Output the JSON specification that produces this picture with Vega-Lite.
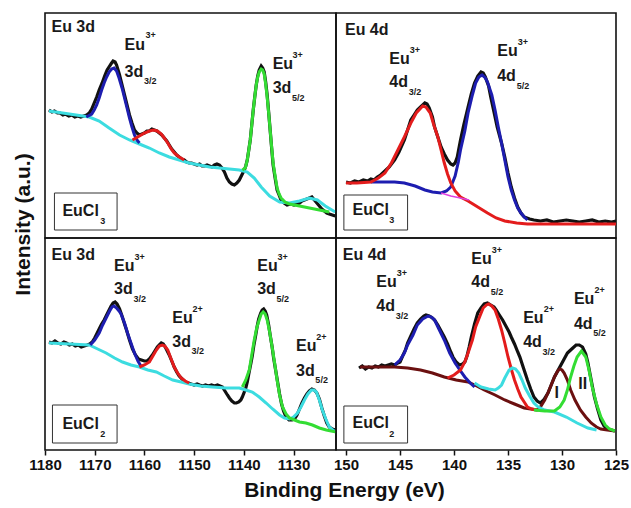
{
"$schema": "https://vega.github.io/schema/vega-lite/v6.json",
"background": "white",
"padding": {"left": 11, "top": 12, "right": 0, "bottom": 4},
"columns": 2,
"spacing": 0,
"bounds": "flush",
"config": {"view": {"stroke": "#111", "strokeWidth": 1.6}, "font": "Liberation Sans"},
"datasets": {
"curves": [
{"p":"TL","s":"data","E":1179.2,"I":128},{"p":"TL","s":"data","E":1178.6,"I":126},{"p":"TL","s":"data","E":1178.1,"I":127},{"p":"TL","s":"data","E":1177.5,"I":125},{"p":"TL","s":"data","E":1177.0,"I":125},{"p":"TL","s":"data","E":1176.4,"I":123},{"p":"TL","s":"data","E":1175.9,"I":124},{"p":"TL","s":"data","E":1175.2,"I":122},{"p":"TL","s":"data","E":1174.6,"I":123},{"p":"TL","s":"data","E":1174.0,"I":121},{"p":"TL","s":"data","E":1173.4,"I":122},{"p":"TL","s":"data","E":1172.8,"I":121},{"p":"TL","s":"data","E":1172.2,"I":122},{"p":"TL","s":"data","E":1171.6,"I":123},{"p":"TL","s":"data","E":1171.1,"I":125},{"p":"TL","s":"data","E":1170.6,"I":129},{"p":"TL","s":"data","E":1170.1,"I":135},{"p":"TL","s":"data","E":1169.6,"I":141},{"p":"TL","s":"data","E":1169.1,"I":148},{"p":"TL","s":"data","E":1168.5,"I":155},{"p":"TL","s":"data","E":1168.0,"I":162},{"p":"TL","s":"data","E":1167.5,"I":168},{"p":"TL","s":"data","E":1167.0,"I":172},{"p":"TL","s":"data","E":1166.6,"I":175},{"p":"TL","s":"data","E":1166.3,"I":177},{"p":"TL","s":"data","E":1165.9,"I":176},{"p":"TL","s":"data","E":1165.6,"I":173},{"p":"TL","s":"data","E":1165.3,"I":168},{"p":"TL","s":"data","E":1165.0,"I":163},{"p":"TL","s":"data","E":1164.5,"I":153},{"p":"TL","s":"data","E":1164.0,"I":143},{"p":"TL","s":"data","E":1163.5,"I":133},{"p":"TL","s":"data","E":1163.0,"I":123},{"p":"TL","s":"data","E":1162.5,"I":115},{"p":"TL","s":"data","E":1162.0,"I":108},{"p":"TL","s":"data","E":1161.5,"I":105},{"p":"TL","s":"data","E":1161.0,"I":103},{"p":"TL","s":"data","E":1160.5,"I":104},{"p":"TL","s":"data","E":1160.0,"I":105},{"p":"TL","s":"data","E":1159.5,"I":107},{"p":"TL","s":"data","E":1159.0,"I":107},{"p":"TL","s":"data","E":1158.5,"I":109},{"p":"TL","s":"data","E":1158.0,"I":108},{"p":"TL","s":"data","E":1157.5,"I":107},{"p":"TL","s":"data","E":1157.0,"I":105},{"p":"TL","s":"data","E":1156.5,"I":103},{"p":"TL","s":"data","E":1156.0,"I":100},{"p":"TL","s":"data","E":1155.5,"I":97},{"p":"TL","s":"data","E":1155.0,"I":93},{"p":"TL","s":"data","E":1154.5,"I":89},{"p":"TL","s":"data","E":1154.0,"I":86},{"p":"TL","s":"data","E":1153.5,"I":83},{"p":"TL","s":"data","E":1153.0,"I":81},{"p":"TL","s":"data","E":1152.5,"I":79},{"p":"TL","s":"data","E":1152.0,"I":78},{"p":"TL","s":"data","E":1151.5,"I":76},{"p":"TL","s":"data","E":1151.0,"I":75},{"p":"TL","s":"data","E":1150.5,"I":75},{"p":"TL","s":"data","E":1150.0,"I":74},{"p":"TL","s":"data","E":1149.4,"I":73},{"p":"TL","s":"data","E":1148.9,"I":74},{"p":"TL","s":"data","E":1148.4,"I":72},{"p":"TL","s":"data","E":1147.9,"I":72},{"p":"TL","s":"data","E":1147.4,"I":73},{"p":"TL","s":"data","E":1146.9,"I":72},{"p":"TL","s":"data","E":1146.4,"I":71},{"p":"TL","s":"data","E":1145.9,"I":73},{"p":"TL","s":"data","E":1145.4,"I":74},{"p":"TL","s":"data","E":1144.9,"I":73},{"p":"TL","s":"data","E":1144.4,"I":70},{"p":"TL","s":"data","E":1143.9,"I":66},{"p":"TL","s":"data","E":1143.4,"I":60},{"p":"TL","s":"data","E":1142.9,"I":56},{"p":"TL","s":"data","E":1142.4,"I":54},{"p":"TL","s":"data","E":1141.9,"I":53},{"p":"TL","s":"data","E":1141.4,"I":55},{"p":"TL","s":"data","E":1140.9,"I":58},{"p":"TL","s":"data","E":1140.4,"I":63},{"p":"TL","s":"data","E":1139.9,"I":68},{"p":"TL","s":"data","E":1139.6,"I":72},{"p":"TL","s":"data","E":1139.3,"I":78},{"p":"TL","s":"data","E":1139.0,"I":88},{"p":"TL","s":"data","E":1138.7,"I":98},{"p":"TL","s":"data","E":1138.4,"I":113},{"p":"TL","s":"data","E":1138.1,"I":128},{"p":"TL","s":"data","E":1137.8,"I":141},{"p":"TL","s":"data","E":1137.5,"I":153},{"p":"TL","s":"data","E":1137.2,"I":162},{"p":"TL","s":"data","E":1136.9,"I":168},{"p":"TL","s":"data","E":1136.5,"I":172},{"p":"TL","s":"data","E":1136.2,"I":170},{"p":"TL","s":"data","E":1135.9,"I":166},{"p":"TL","s":"data","E":1135.6,"I":156},{"p":"TL","s":"data","E":1135.3,"I":143},{"p":"TL","s":"data","E":1135.0,"I":126},{"p":"TL","s":"data","E":1134.7,"I":108},{"p":"TL","s":"data","E":1134.4,"I":90},{"p":"TL","s":"data","E":1134.1,"I":73},{"p":"TL","s":"data","E":1133.7,"I":60},{"p":"TL","s":"data","E":1133.3,"I":48},{"p":"TL","s":"data","E":1132.9,"I":43},{"p":"TL","s":"data","E":1132.5,"I":38},{"p":"TL","s":"data","E":1131.9,"I":35},{"p":"TL","s":"data","E":1131.3,"I":33},{"p":"TL","s":"data","E":1130.6,"I":34},{"p":"TL","s":"data","E":1129.9,"I":33},{"p":"TL","s":"data","E":1129.3,"I":34},{"p":"TL","s":"data","E":1128.8,"I":35},{"p":"TL","s":"data","E":1128.3,"I":37},{"p":"TL","s":"data","E":1127.8,"I":38},{"p":"TL","s":"data","E":1127.3,"I":39},{"p":"TL","s":"data","E":1126.8,"I":40},{"p":"TL","s":"data","E":1126.3,"I":41},{"p":"TL","s":"data","E":1125.8,"I":38},{"p":"TL","s":"data","E":1125.3,"I":35},{"p":"TL","s":"data","E":1124.8,"I":32},{"p":"TL","s":"data","E":1124.3,"I":29},{"p":"TL","s":"data","E":1123.8,"I":27},{"p":"TL","s":"data","E":1123.3,"I":25},{"p":"TL","s":"data","E":1122.8,"I":24},{"p":"TL","s":"data","E":1122.2,"I":23},{"p":"TL","s":"data","E":1121.6,"I":22},
{"p":"TL","s":"D","E":1179.2,"I":127},{"p":"TL","s":"D","E":1175.1,"I":124},{"p":"TL","s":"D","E":1171.1,"I":121},{"p":"TL","s":"D","E":1169.1,"I":117},{"p":"TL","s":"D","E":1167.1,"I":110},{"p":"TL","s":"D","E":1165.0,"I":103},{"p":"TL","s":"D","E":1163.0,"I":98},{"p":"TL","s":"D","E":1161.0,"I":94},{"p":"TL","s":"D","E":1159.0,"I":90},{"p":"TL","s":"D","E":1157.0,"I":85},{"p":"TL","s":"D","E":1155.0,"I":81},{"p":"TL","s":"D","E":1153.0,"I":78},{"p":"TL","s":"D","E":1151.0,"I":75},{"p":"TL","s":"D","E":1148.9,"I":73},{"p":"TL","s":"D","E":1146.9,"I":71},{"p":"TL","s":"D","E":1144.9,"I":70},{"p":"TL","s":"D","E":1142.9,"I":69},{"p":"TL","s":"D","E":1140.9,"I":68},{"p":"TL","s":"D","E":1139.3,"I":66},{"p":"TL","s":"D","E":1137.9,"I":60},{"p":"TL","s":"D","E":1136.5,"I":51},{"p":"TL","s":"D","E":1134.8,"I":42},{"p":"TL","s":"D","E":1132.8,"I":36},{"p":"TL","s":"D","E":1130.8,"I":35},{"p":"TL","s":"D","E":1128.8,"I":37},{"p":"TL","s":"D","E":1126.8,"I":40},{"p":"TL","s":"D","E":1125.2,"I":38},{"p":"TL","s":"D","E":1123.6,"I":32},{"p":"TL","s":"D","E":1121.6,"I":26},
{"p":"TL","s":"A","E":1171.7,"I":121},{"p":"TL","s":"A","E":1170.6,"I":124},{"p":"TL","s":"A","E":1170.1,"I":128},{"p":"TL","s":"A","E":1169.6,"I":133},{"p":"TL","s":"A","E":1169.1,"I":140},{"p":"TL","s":"A","E":1168.6,"I":148},{"p":"TL","s":"A","E":1168.1,"I":155},{"p":"TL","s":"A","E":1167.6,"I":161},{"p":"TL","s":"A","E":1167.1,"I":166},{"p":"TL","s":"A","E":1166.6,"I":169},{"p":"TL","s":"A","E":1166.1,"I":170},{"p":"TL","s":"A","E":1165.6,"I":167},{"p":"TL","s":"A","E":1165.1,"I":160},{"p":"TL","s":"A","E":1164.5,"I":150},{"p":"TL","s":"A","E":1164.0,"I":140},{"p":"TL","s":"A","E":1163.5,"I":130},{"p":"TL","s":"A","E":1163.0,"I":120},{"p":"TL","s":"A","E":1162.5,"I":111},{"p":"TL","s":"A","E":1162.0,"I":103},{"p":"TL","s":"A","E":1161.5,"I":98},{"p":"TL","s":"A","E":1161.0,"I":95},
{"p":"TL","s":"B","E":1162.4,"I":98},{"p":"TL","s":"B","E":1161.0,"I":102},{"p":"TL","s":"B","E":1160.0,"I":105},{"p":"TL","s":"B","E":1159.0,"I":107},{"p":"TL","s":"B","E":1158.2,"I":108},{"p":"TL","s":"B","E":1157.4,"I":107},{"p":"TL","s":"B","E":1156.6,"I":104},{"p":"TL","s":"B","E":1156.0,"I":100},{"p":"TL","s":"B","E":1155.3,"I":95},{"p":"TL","s":"B","E":1154.6,"I":89},{"p":"TL","s":"B","E":1154.0,"I":85},{"p":"TL","s":"B","E":1153.0,"I":81},{"p":"TL","s":"B","E":1152.0,"I":78},
{"p":"TL","s":"C","E":1140.3,"I":68},{"p":"TL","s":"C","E":1139.7,"I":70},{"p":"TL","s":"C","E":1139.3,"I":78},{"p":"TL","s":"C","E":1139.0,"I":88},{"p":"TL","s":"C","E":1138.7,"I":98},{"p":"TL","s":"C","E":1138.4,"I":113},{"p":"TL","s":"C","E":1138.1,"I":128},{"p":"TL","s":"C","E":1137.8,"I":141},{"p":"TL","s":"C","E":1137.5,"I":153},{"p":"TL","s":"C","E":1137.2,"I":161},{"p":"TL","s":"C","E":1136.9,"I":166},{"p":"TL","s":"C","E":1136.5,"I":169},{"p":"TL","s":"C","E":1136.2,"I":168},{"p":"TL","s":"C","E":1135.9,"I":164},{"p":"TL","s":"C","E":1135.6,"I":154},{"p":"TL","s":"C","E":1135.3,"I":141},{"p":"TL","s":"C","E":1135.0,"I":125},{"p":"TL","s":"C","E":1134.7,"I":108},{"p":"TL","s":"C","E":1134.4,"I":91},{"p":"TL","s":"C","E":1134.1,"I":75},{"p":"TL","s":"C","E":1133.7,"I":62},{"p":"TL","s":"C","E":1133.3,"I":50},{"p":"TL","s":"C","E":1132.9,"I":44},{"p":"TL","s":"C","E":1132.5,"I":40},{"p":"TL","s":"C","E":1131.7,"I":36},{"p":"TL","s":"C","E":1130.8,"I":34},{"p":"TL","s":"C","E":1128.8,"I":32},{"p":"TL","s":"C","E":1126.8,"I":30},{"p":"TL","s":"C","E":1124.8,"I":28},{"p":"TL","s":"C","E":1122.8,"I":26},
{"p":"TR","s":"data","E":150.0,"I":56},{"p":"TR","s":"data","E":149.6,"I":55},{"p":"TR","s":"data","E":149.2,"I":57},{"p":"TR","s":"data","E":148.8,"I":56},{"p":"TR","s":"data","E":148.4,"I":58},{"p":"TR","s":"data","E":148.0,"I":57},{"p":"TR","s":"data","E":147.7,"I":59},{"p":"TR","s":"data","E":147.4,"I":58},{"p":"TR","s":"data","E":147.1,"I":61},{"p":"TR","s":"data","E":146.8,"I":63},{"p":"TR","s":"data","E":146.4,"I":67},{"p":"TR","s":"data","E":146.0,"I":71},{"p":"TR","s":"data","E":145.5,"I":78},{"p":"TR","s":"data","E":145.1,"I":86},{"p":"TR","s":"data","E":144.6,"I":98},{"p":"TR","s":"data","E":144.3,"I":108},{"p":"TR","s":"data","E":144.0,"I":118},{"p":"TR","s":"data","E":143.7,"I":123},{"p":"TR","s":"data","E":143.4,"I":128},{"p":"TR","s":"data","E":143.1,"I":131},{"p":"TR","s":"data","E":142.9,"I":133},{"p":"TR","s":"data","E":142.7,"I":135},{"p":"TR","s":"data","E":142.5,"I":134},{"p":"TR","s":"data","E":142.3,"I":130},{"p":"TR","s":"data","E":142.0,"I":121},{"p":"TR","s":"data","E":141.8,"I":111},{"p":"TR","s":"data","E":141.5,"I":101},{"p":"TR","s":"data","E":141.2,"I":91},{"p":"TR","s":"data","E":140.9,"I":84},{"p":"TR","s":"data","E":140.6,"I":78},{"p":"TR","s":"data","E":140.3,"I":74},{"p":"TR","s":"data","E":140.1,"I":73},{"p":"TR","s":"data","E":139.9,"I":75},{"p":"TR","s":"data","E":139.7,"I":81},{"p":"TR","s":"data","E":139.4,"I":98},{"p":"TR","s":"data","E":139.1,"I":113},{"p":"TR","s":"data","E":138.7,"I":131},{"p":"TR","s":"data","E":138.4,"I":144},{"p":"TR","s":"data","E":138.1,"I":155},{"p":"TR","s":"data","E":137.8,"I":162},{"p":"TR","s":"data","E":137.5,"I":166},{"p":"TR","s":"data","E":137.3,"I":165},{"p":"TR","s":"data","E":137.1,"I":161},{"p":"TR","s":"data","E":136.8,"I":152},{"p":"TR","s":"data","E":136.6,"I":141},{"p":"TR","s":"data","E":136.3,"I":126},{"p":"TR","s":"data","E":136.0,"I":111},{"p":"TR","s":"data","E":135.6,"I":95},{"p":"TR","s":"data","E":135.3,"I":81},{"p":"TR","s":"data","E":135.0,"I":65},{"p":"TR","s":"data","E":134.7,"I":51},{"p":"TR","s":"data","E":134.4,"I":40},{"p":"TR","s":"data","E":134.1,"I":31},{"p":"TR","s":"data","E":133.8,"I":25},{"p":"TR","s":"data","E":133.5,"I":21},{"p":"TR","s":"data","E":133.0,"I":19},{"p":"TR","s":"data","E":132.6,"I":18},{"p":"TR","s":"data","E":132.0,"I":17},{"p":"TR","s":"data","E":131.4,"I":18},{"p":"TR","s":"data","E":130.8,"I":16},{"p":"TR","s":"data","E":130.2,"I":17},{"p":"TR","s":"data","E":129.6,"I":18},{"p":"TR","s":"data","E":129.0,"I":17},{"p":"TR","s":"data","E":128.4,"I":16},{"p":"TR","s":"data","E":127.8,"I":17},{"p":"TR","s":"data","E":127.2,"I":18},{"p":"TR","s":"data","E":126.6,"I":16},{"p":"TR","s":"data","E":126.0,"I":17},{"p":"TR","s":"data","E":125.4,"I":16},{"p":"TR","s":"data","E":125.0,"I":17},
{"p":"TR","s":"A","E":147.7,"I":56},{"p":"TR","s":"A","E":146.5,"I":56},{"p":"TR","s":"A","E":145.5,"I":56},{"p":"TR","s":"A","E":144.6,"I":55},{"p":"TR","s":"A","E":143.6,"I":52},{"p":"TR","s":"A","E":142.7,"I":48},{"p":"TR","s":"A","E":142.0,"I":46},{"p":"TR","s":"A","E":141.2,"I":45},{"p":"TR","s":"A","E":140.7,"I":47},{"p":"TR","s":"A","E":140.3,"I":51},{"p":"TR","s":"A","E":139.9,"I":62},{"p":"TR","s":"A","E":139.6,"I":76},{"p":"TR","s":"A","E":139.4,"I":88},{"p":"TR","s":"A","E":139.0,"I":107},{"p":"TR","s":"A","E":138.7,"I":125},{"p":"TR","s":"A","E":138.3,"I":143},{"p":"TR","s":"A","E":138.0,"I":155},{"p":"TR","s":"A","E":137.7,"I":161},{"p":"TR","s":"A","E":137.4,"I":163},{"p":"TR","s":"A","E":137.1,"I":160},{"p":"TR","s":"A","E":136.9,"I":156},{"p":"TR","s":"A","E":136.5,"I":143},{"p":"TR","s":"A","E":136.2,"I":128},{"p":"TR","s":"A","E":135.9,"I":111},{"p":"TR","s":"A","E":135.6,"I":95},{"p":"TR","s":"A","E":135.3,"I":78},{"p":"TR","s":"A","E":135.0,"I":61},{"p":"TR","s":"A","E":134.7,"I":48},{"p":"TR","s":"A","E":134.4,"I":38},{"p":"TR","s":"A","E":134.1,"I":30},{"p":"TR","s":"A","E":133.8,"I":25},{"p":"TR","s":"A","E":133.5,"I":21},{"p":"TR","s":"A","E":133.2,"I":18},
{"p":"TR","s":"B","E":150.0,"I":55},{"p":"TR","s":"B","E":149.0,"I":55},{"p":"TR","s":"B","E":147.7,"I":56},{"p":"TR","s":"B","E":147.0,"I":60},{"p":"TR","s":"B","E":146.4,"I":65},{"p":"TR","s":"B","E":145.8,"I":75},{"p":"TR","s":"B","E":145.2,"I":88},{"p":"TR","s":"B","E":144.6,"I":101},{"p":"TR","s":"B","E":144.0,"I":115},{"p":"TR","s":"B","E":143.5,"I":125},{"p":"TR","s":"B","E":142.9,"I":132},{"p":"TR","s":"B","E":142.6,"I":131},{"p":"TR","s":"B","E":142.2,"I":125},{"p":"TR","s":"B","E":141.9,"I":114},{"p":"TR","s":"B","E":141.5,"I":101},{"p":"TR","s":"B","E":141.2,"I":88},{"p":"TR","s":"B","E":140.9,"I":75},{"p":"TR","s":"B","E":140.6,"I":64},{"p":"TR","s":"B","E":140.3,"I":55},{"p":"TR","s":"B","E":139.9,"I":47},{"p":"TR","s":"B","E":139.4,"I":41},{"p":"TR","s":"B","E":138.7,"I":37},{"p":"TR","s":"B","E":138.1,"I":33},{"p":"TR","s":"B","E":137.5,"I":29},{"p":"TR","s":"B","E":136.9,"I":25},{"p":"TR","s":"B","E":136.1,"I":20},{"p":"TR","s":"B","E":135.3,"I":17},{"p":"TR","s":"B","E":134.2,"I":15},{"p":"TR","s":"B","E":133.2,"I":14},{"p":"TR","s":"B","E":130.0,"I":14},{"p":"TR","s":"B","E":127.0,"I":14},{"p":"TR","s":"B","E":125.0,"I":14},
{"p":"TR","s":"F","E":141.2,"I":45},{"p":"TR","s":"F","E":140.3,"I":42},{"p":"TR","s":"F","E":139.4,"I":40},{"p":"TR","s":"F","E":138.6,"I":38},
{"p":"BL","s":"data","E":1179.2,"I":108},{"p":"BL","s":"data","E":1178.6,"I":107},{"p":"BL","s":"data","E":1178.0,"I":109},{"p":"BL","s":"data","E":1177.4,"I":107},{"p":"BL","s":"data","E":1176.8,"I":106},{"p":"BL","s":"data","E":1176.2,"I":108},{"p":"BL","s":"data","E":1175.7,"I":107},{"p":"BL","s":"data","E":1175.1,"I":105},{"p":"BL","s":"data","E":1174.5,"I":106},{"p":"BL","s":"data","E":1173.9,"I":104},{"p":"BL","s":"data","E":1173.3,"I":105},{"p":"BL","s":"data","E":1172.7,"I":103},{"p":"BL","s":"data","E":1172.1,"I":104},{"p":"BL","s":"data","E":1171.5,"I":105},{"p":"BL","s":"data","E":1171.0,"I":106},{"p":"BL","s":"data","E":1170.5,"I":108},{"p":"BL","s":"data","E":1170.0,"I":112},{"p":"BL","s":"data","E":1169.5,"I":117},{"p":"BL","s":"data","E":1169.1,"I":121},{"p":"BL","s":"data","E":1168.6,"I":126},{"p":"BL","s":"data","E":1168.1,"I":130},{"p":"BL","s":"data","E":1167.7,"I":134},{"p":"BL","s":"data","E":1167.2,"I":139},{"p":"BL","s":"data","E":1166.7,"I":144},{"p":"BL","s":"data","E":1166.3,"I":147},{"p":"BL","s":"data","E":1165.9,"I":148},{"p":"BL","s":"data","E":1165.5,"I":146},{"p":"BL","s":"data","E":1165.0,"I":141},{"p":"BL","s":"data","E":1164.5,"I":134},{"p":"BL","s":"data","E":1164.0,"I":126},{"p":"BL","s":"data","E":1163.6,"I":120},{"p":"BL","s":"data","E":1163.0,"I":110},{"p":"BL","s":"data","E":1162.4,"I":101},{"p":"BL","s":"data","E":1161.8,"I":95},{"p":"BL","s":"data","E":1161.2,"I":91},{"p":"BL","s":"data","E":1160.6,"I":90},{"p":"BL","s":"data","E":1160.0,"I":89},{"p":"BL","s":"data","E":1159.5,"I":89},{"p":"BL","s":"data","E":1159.0,"I":91},{"p":"BL","s":"data","E":1158.4,"I":95},{"p":"BL","s":"data","E":1157.9,"I":99},{"p":"BL","s":"data","E":1157.4,"I":103},{"p":"BL","s":"data","E":1157.0,"I":105},{"p":"BL","s":"data","E":1156.6,"I":107},{"p":"BL","s":"data","E":1156.2,"I":106},{"p":"BL","s":"data","E":1155.8,"I":103},{"p":"BL","s":"data","E":1155.4,"I":99},{"p":"BL","s":"data","E":1155.0,"I":95},{"p":"BL","s":"data","E":1154.5,"I":89},{"p":"BL","s":"data","E":1154.0,"I":83},{"p":"BL","s":"data","E":1153.5,"I":78},{"p":"BL","s":"data","E":1153.0,"I":74},{"p":"BL","s":"data","E":1152.4,"I":71},{"p":"BL","s":"data","E":1151.8,"I":68},{"p":"BL","s":"data","E":1151.2,"I":67},{"p":"BL","s":"data","E":1150.6,"I":66},{"p":"BL","s":"data","E":1150.0,"I":65},{"p":"BL","s":"data","E":1149.4,"I":66},{"p":"BL","s":"data","E":1148.9,"I":65},{"p":"BL","s":"data","E":1148.3,"I":64},{"p":"BL","s":"data","E":1147.7,"I":65},{"p":"BL","s":"data","E":1147.1,"I":64},{"p":"BL","s":"data","E":1146.5,"I":65},{"p":"BL","s":"data","E":1145.9,"I":64},{"p":"BL","s":"data","E":1145.3,"I":65},{"p":"BL","s":"data","E":1144.8,"I":64},{"p":"BL","s":"data","E":1144.3,"I":63},{"p":"BL","s":"data","E":1143.8,"I":59},{"p":"BL","s":"data","E":1143.3,"I":55},{"p":"BL","s":"data","E":1142.9,"I":52},{"p":"BL","s":"data","E":1142.4,"I":49},{"p":"BL","s":"data","E":1141.9,"I":47},{"p":"BL","s":"data","E":1141.5,"I":47},{"p":"BL","s":"data","E":1141.0,"I":48},{"p":"BL","s":"data","E":1140.6,"I":50},{"p":"BL","s":"data","E":1140.3,"I":53},{"p":"BL","s":"data","E":1139.9,"I":58},{"p":"BL","s":"data","E":1139.6,"I":62},{"p":"BL","s":"data","E":1139.3,"I":68},{"p":"BL","s":"data","E":1139.0,"I":76},{"p":"BL","s":"data","E":1138.6,"I":86},{"p":"BL","s":"data","E":1138.3,"I":94},{"p":"BL","s":"data","E":1138.0,"I":104},{"p":"BL","s":"data","E":1137.6,"I":115},{"p":"BL","s":"data","E":1137.3,"I":124},{"p":"BL","s":"data","E":1137.0,"I":131},{"p":"BL","s":"data","E":1136.6,"I":137},{"p":"BL","s":"data","E":1136.3,"I":140},{"p":"BL","s":"data","E":1136.0,"I":141},{"p":"BL","s":"data","E":1135.7,"I":139},{"p":"BL","s":"data","E":1135.4,"I":135},{"p":"BL","s":"data","E":1135.0,"I":125},{"p":"BL","s":"data","E":1134.7,"I":115},{"p":"BL","s":"data","E":1134.3,"I":103},{"p":"BL","s":"data","E":1134.0,"I":92},{"p":"BL","s":"data","E":1133.6,"I":80},{"p":"BL","s":"data","E":1133.2,"I":68},{"p":"BL","s":"data","E":1132.8,"I":56},{"p":"BL","s":"data","E":1132.4,"I":46},{"p":"BL","s":"data","E":1132.0,"I":39},{"p":"BL","s":"data","E":1131.5,"I":33},{"p":"BL","s":"data","E":1130.9,"I":30},{"p":"BL","s":"data","E":1130.3,"I":30},{"p":"BL","s":"data","E":1129.8,"I":31},{"p":"BL","s":"data","E":1129.3,"I":35},{"p":"BL","s":"data","E":1128.8,"I":41},{"p":"BL","s":"data","E":1128.3,"I":47},{"p":"BL","s":"data","E":1127.8,"I":52},{"p":"BL","s":"data","E":1127.3,"I":56},{"p":"BL","s":"data","E":1126.8,"I":59},{"p":"BL","s":"data","E":1126.3,"I":61},{"p":"BL","s":"data","E":1125.8,"I":60},{"p":"BL","s":"data","E":1125.3,"I":57},{"p":"BL","s":"data","E":1124.8,"I":51},{"p":"BL","s":"data","E":1124.3,"I":42},{"p":"BL","s":"data","E":1123.8,"I":34},{"p":"BL","s":"data","E":1123.3,"I":27},{"p":"BL","s":"data","E":1122.8,"I":23},{"p":"BL","s":"data","E":1122.2,"I":21},{"p":"BL","s":"data","E":1121.6,"I":20},
{"p":"BL","s":"D","E":1179.2,"I":107},{"p":"BL","s":"D","E":1175.0,"I":106},{"p":"BL","s":"D","E":1171.1,"I":105},{"p":"BL","s":"D","E":1169.4,"I":101},{"p":"BL","s":"D","E":1167.7,"I":97},{"p":"BL","s":"D","E":1166.0,"I":92},{"p":"BL","s":"D","E":1164.4,"I":88},{"p":"BL","s":"D","E":1162.7,"I":85},{"p":"BL","s":"D","E":1161.0,"I":83},{"p":"BL","s":"D","E":1159.3,"I":80},{"p":"BL","s":"D","E":1157.6,"I":78},{"p":"BL","s":"D","E":1156.0,"I":74},{"p":"BL","s":"D","E":1154.3,"I":70},{"p":"BL","s":"D","E":1152.6,"I":68},{"p":"BL","s":"D","E":1151.0,"I":66},{"p":"BL","s":"D","E":1148.7,"I":64},{"p":"BL","s":"D","E":1146.3,"I":63},{"p":"BL","s":"D","E":1143.6,"I":62},{"p":"BL","s":"D","E":1140.9,"I":62},{"p":"BL","s":"D","E":1139.6,"I":60},{"p":"BL","s":"D","E":1138.3,"I":58},{"p":"BL","s":"D","E":1136.9,"I":53},{"p":"BL","s":"D","E":1135.5,"I":47},{"p":"BL","s":"D","E":1134.2,"I":41},{"p":"BL","s":"D","E":1132.8,"I":35},{"p":"BL","s":"D","E":1131.8,"I":32},{"p":"BL","s":"D","E":1130.8,"I":31},{"p":"BL","s":"D","E":1130.0,"I":33},{"p":"BL","s":"D","E":1129.2,"I":37},{"p":"BL","s":"D","E":1128.5,"I":43},{"p":"BL","s":"D","E":1127.8,"I":50},{"p":"BL","s":"D","E":1127.1,"I":56},{"p":"BL","s":"D","E":1126.4,"I":60},{"p":"BL","s":"D","E":1125.9,"I":60},{"p":"BL","s":"D","E":1125.4,"I":58},{"p":"BL","s":"D","E":1124.8,"I":50},{"p":"BL","s":"D","E":1124.2,"I":40},{"p":"BL","s":"D","E":1123.5,"I":31},{"p":"BL","s":"D","E":1122.8,"I":23},{"p":"BL","s":"D","E":1122.1,"I":20},{"p":"BL","s":"D","E":1121.4,"I":18},
{"p":"BL","s":"A","E":1170.9,"I":105},{"p":"BL","s":"A","E":1170.0,"I":110},{"p":"BL","s":"A","E":1169.1,"I":117},{"p":"BL","s":"A","E":1168.4,"I":125},{"p":"BL","s":"A","E":1167.7,"I":132},{"p":"BL","s":"A","E":1167.0,"I":139},{"p":"BL","s":"A","E":1166.5,"I":143},{"p":"BL","s":"A","E":1166.1,"I":144},{"p":"BL","s":"A","E":1165.6,"I":142},{"p":"BL","s":"A","E":1165.1,"I":139},{"p":"BL","s":"A","E":1164.7,"I":136},{"p":"BL","s":"A","E":1164.0,"I":127},{"p":"BL","s":"A","E":1163.4,"I":117},{"p":"BL","s":"A","E":1162.7,"I":107},{"p":"BL","s":"A","E":1162.0,"I":97},{"p":"BL","s":"A","E":1161.3,"I":89},{"p":"BL","s":"A","E":1160.6,"I":83},
{"p":"BL","s":"B","E":1161.0,"I":83},{"p":"BL","s":"B","E":1160.0,"I":85},{"p":"BL","s":"B","E":1159.0,"I":88},{"p":"BL","s":"B","E":1158.3,"I":94},{"p":"BL","s":"B","E":1157.6,"I":100},{"p":"BL","s":"B","E":1157.0,"I":104},{"p":"BL","s":"B","E":1156.4,"I":105},{"p":"BL","s":"B","E":1155.9,"I":104},{"p":"BL","s":"B","E":1155.3,"I":100},{"p":"BL","s":"B","E":1154.7,"I":92},{"p":"BL","s":"B","E":1154.0,"I":83},{"p":"BL","s":"B","E":1153.3,"I":77},{"p":"BL","s":"B","E":1152.6,"I":72},{"p":"BL","s":"B","E":1151.8,"I":69},{"p":"BL","s":"B","E":1151.0,"I":67},
{"p":"BL","s":"C","E":1140.3,"I":63},{"p":"BL","s":"C","E":1139.6,"I":70},{"p":"BL","s":"C","E":1138.9,"I":80},{"p":"BL","s":"C","E":1138.4,"I":95},{"p":"BL","s":"C","E":1137.9,"I":110},{"p":"BL","s":"C","E":1137.4,"I":122},{"p":"BL","s":"C","E":1136.9,"I":130},{"p":"BL","s":"C","E":1136.5,"I":136},{"p":"BL","s":"C","E":1136.1,"I":138},{"p":"BL","s":"C","E":1135.7,"I":136},{"p":"BL","s":"C","E":1135.3,"I":130},{"p":"BL","s":"C","E":1134.8,"I":118},{"p":"BL","s":"C","E":1134.3,"I":103},{"p":"BL","s":"C","E":1133.8,"I":87},{"p":"BL","s":"C","E":1133.3,"I":70},{"p":"BL","s":"C","E":1132.8,"I":55},{"p":"BL","s":"C","E":1132.2,"I":43},{"p":"BL","s":"C","E":1131.5,"I":36},{"p":"BL","s":"C","E":1130.8,"I":32},{"p":"BL","s":"C","E":1129.8,"I":30},{"p":"BL","s":"C","E":1128.8,"I":28},{"p":"BL","s":"C","E":1127.5,"I":27},{"p":"BL","s":"C","E":1126.2,"I":25},{"p":"BL","s":"C","E":1124.8,"I":22},{"p":"BL","s":"C","E":1123.4,"I":20},{"p":"BL","s":"C","E":1121.4,"I":18},
{"p":"BR","s":"data","E":148.8,"I":82},{"p":"BR","s":"data","E":148.5,"I":84},{"p":"BR","s":"data","E":148.2,"I":81},{"p":"BR","s":"data","E":147.9,"I":83},{"p":"BR","s":"data","E":147.6,"I":82},{"p":"BR","s":"data","E":147.3,"I":84},{"p":"BR","s":"data","E":147.0,"I":83},{"p":"BR","s":"data","E":146.7,"I":85},{"p":"BR","s":"data","E":146.4,"I":84},{"p":"BR","s":"data","E":146.1,"I":85},{"p":"BR","s":"data","E":145.8,"I":86},{"p":"BR","s":"data","E":145.5,"I":85},{"p":"BR","s":"data","E":145.2,"I":87},{"p":"BR","s":"data","E":145.0,"I":88},{"p":"BR","s":"data","E":144.8,"I":93},{"p":"BR","s":"data","E":144.5,"I":100},{"p":"BR","s":"data","E":144.3,"I":107},{"p":"BR","s":"data","E":144.0,"I":114},{"p":"BR","s":"data","E":143.7,"I":121},{"p":"BR","s":"data","E":143.4,"I":127},{"p":"BR","s":"data","E":143.1,"I":131},{"p":"BR","s":"data","E":142.8,"I":134},{"p":"BR","s":"data","E":142.6,"I":135},{"p":"BR","s":"data","E":142.3,"I":134},{"p":"BR","s":"data","E":142.0,"I":132},{"p":"BR","s":"data","E":141.8,"I":130},{"p":"BR","s":"data","E":141.5,"I":125},{"p":"BR","s":"data","E":141.2,"I":119},{"p":"BR","s":"data","E":140.9,"I":113},{"p":"BR","s":"data","E":140.6,"I":106},{"p":"BR","s":"data","E":140.3,"I":98},{"p":"BR","s":"data","E":140.1,"I":93},{"p":"BR","s":"data","E":139.8,"I":88},{"p":"BR","s":"data","E":139.5,"I":85},{"p":"BR","s":"data","E":139.2,"I":86},{"p":"BR","s":"data","E":139.0,"I":88},{"p":"BR","s":"data","E":138.8,"I":94},{"p":"BR","s":"data","E":138.6,"I":103},{"p":"BR","s":"data","E":138.4,"I":113},{"p":"BR","s":"data","E":138.1,"I":126},{"p":"BR","s":"data","E":137.8,"I":137},{"p":"BR","s":"data","E":137.5,"I":142},{"p":"BR","s":"data","E":137.2,"I":146},{"p":"BR","s":"data","E":136.9,"I":147},{"p":"BR","s":"data","E":136.6,"I":145},{"p":"BR","s":"data","E":136.3,"I":143},{"p":"BR","s":"data","E":136.1,"I":140},{"p":"BR","s":"data","E":135.8,"I":135},{"p":"BR","s":"data","E":135.5,"I":130},{"p":"BR","s":"data","E":135.2,"I":124},{"p":"BR","s":"data","E":134.9,"I":118},{"p":"BR","s":"data","E":134.7,"I":113},{"p":"BR","s":"data","E":134.4,"I":106},{"p":"BR","s":"data","E":134.1,"I":98},{"p":"BR","s":"data","E":133.9,"I":93},{"p":"BR","s":"data","E":133.6,"I":83},{"p":"BR","s":"data","E":133.2,"I":70},{"p":"BR","s":"data","E":132.9,"I":61},{"p":"BR","s":"data","E":132.6,"I":53},{"p":"BR","s":"data","E":132.3,"I":49},{"p":"BR","s":"data","E":132.0,"I":47},{"p":"BR","s":"data","E":131.7,"I":50},{"p":"BR","s":"data","E":131.3,"I":57},{"p":"BR","s":"data","E":131.0,"I":65},{"p":"BR","s":"data","E":130.7,"I":73},{"p":"BR","s":"data","E":130.4,"I":79},{"p":"BR","s":"data","E":130.1,"I":85},{"p":"BR","s":"data","E":129.8,"I":91},{"p":"BR","s":"data","E":129.5,"I":97},{"p":"BR","s":"data","E":129.1,"I":101},{"p":"BR","s":"data","E":128.7,"I":105},{"p":"BR","s":"data","E":128.4,"I":105},{"p":"BR","s":"data","E":128.1,"I":103},{"p":"BR","s":"data","E":127.8,"I":96},{"p":"BR","s":"data","E":127.6,"I":87},{"p":"BR","s":"data","E":127.3,"I":70},{"p":"BR","s":"data","E":127.0,"I":53},{"p":"BR","s":"data","E":126.7,"I":41},{"p":"BR","s":"data","E":126.4,"I":30},{"p":"BR","s":"data","E":126.1,"I":24},{"p":"BR","s":"data","E":125.8,"I":21},{"p":"BR","s":"data","E":125.4,"I":20},{"p":"BR","s":"data","E":125.1,"I":19},
{"p":"BR","s":"E","E":148.7,"I":83},{"p":"BR","s":"E","E":147.0,"I":83},{"p":"BR","s":"E","E":145.5,"I":83},{"p":"BR","s":"E","E":144.3,"I":82},{"p":"BR","s":"E","E":143.1,"I":80},{"p":"BR","s":"E","E":142.0,"I":77},{"p":"BR","s":"E","E":140.9,"I":73},{"p":"BR","s":"E","E":139.8,"I":70},{"p":"BR","s":"E","E":138.7,"I":68},{"p":"BR","s":"E","E":137.9,"I":64},{"p":"BR","s":"E","E":137.2,"I":60},{"p":"BR","s":"E","E":136.2,"I":55},{"p":"BR","s":"E","E":135.3,"I":50},{"p":"BR","s":"E","E":134.4,"I":46},{"p":"BR","s":"E","E":133.5,"I":42},{"p":"BR","s":"E","E":132.9,"I":41},{"p":"BR","s":"E","E":132.3,"I":40},{"p":"BR","s":"E","E":132.0,"I":43},{"p":"BR","s":"E","E":131.6,"I":50},{"p":"BR","s":"E","E":131.3,"I":57},{"p":"BR","s":"E","E":131.0,"I":65},{"p":"BR","s":"E","E":130.7,"I":73},{"p":"BR","s":"E","E":130.4,"I":79},{"p":"BR","s":"E","E":130.2,"I":81},{"p":"BR","s":"E","E":130.0,"I":80},{"p":"BR","s":"E","E":129.8,"I":77},{"p":"BR","s":"E","E":129.5,"I":70},{"p":"BR","s":"E","E":129.2,"I":60},{"p":"BR","s":"E","E":128.8,"I":50},{"p":"BR","s":"E","E":128.3,"I":40},{"p":"BR","s":"E","E":127.8,"I":33},{"p":"BR","s":"E","E":127.3,"I":27},{"p":"BR","s":"E","E":126.8,"I":23},{"p":"BR","s":"E","E":126.4,"I":21},{"p":"BR","s":"E","E":125.8,"I":20},{"p":"BR","s":"E","E":125.1,"I":19},
{"p":"BR","s":"A","E":145.5,"I":85},{"p":"BR","s":"A","E":145.0,"I":90},{"p":"BR","s":"A","E":144.6,"I":97},{"p":"BR","s":"A","E":144.3,"I":105},{"p":"BR","s":"A","E":143.8,"I":115},{"p":"BR","s":"A","E":143.4,"I":125},{"p":"BR","s":"A","E":142.9,"I":131},{"p":"BR","s":"A","E":142.4,"I":134},{"p":"BR","s":"A","E":142.1,"I":133},{"p":"BR","s":"A","E":141.8,"I":130},{"p":"BR","s":"A","E":141.4,"I":121},{"p":"BR","s":"A","E":140.9,"I":110},{"p":"BR","s":"A","E":140.4,"I":97},{"p":"BR","s":"A","E":139.9,"I":87},{"p":"BR","s":"A","E":139.4,"I":79},{"p":"BR","s":"A","E":139.0,"I":73},{"p":"BR","s":"A","E":138.5,"I":67},{"p":"BR","s":"A","E":138.1,"I":63},
{"p":"BR","s":"B","E":140.6,"I":72},{"p":"BR","s":"B","E":140.0,"I":75},{"p":"BR","s":"B","E":139.4,"I":80},{"p":"BR","s":"B","E":139.0,"I":88},{"p":"BR","s":"B","E":138.7,"I":97},{"p":"BR","s":"B","E":138.3,"I":110},{"p":"BR","s":"B","E":138.0,"I":123},{"p":"BR","s":"B","E":137.6,"I":134},{"p":"BR","s":"B","E":137.3,"I":142},{"p":"BR","s":"B","E":137.0,"I":145},{"p":"BR","s":"B","E":136.8,"I":146},{"p":"BR","s":"B","E":136.5,"I":144},{"p":"BR","s":"B","E":136.2,"I":140},{"p":"BR","s":"B","E":135.9,"I":131},{"p":"BR","s":"B","E":135.6,"I":120},{"p":"BR","s":"B","E":135.3,"I":107},{"p":"BR","s":"B","E":135.0,"I":93},{"p":"BR","s":"B","E":134.7,"I":81},{"p":"BR","s":"B","E":134.4,"I":70},{"p":"BR","s":"B","E":134.1,"I":61},{"p":"BR","s":"B","E":133.8,"I":53},{"p":"BR","s":"B","E":133.5,"I":48},{"p":"BR","s":"B","E":133.2,"I":43},{"p":"BR","s":"B","E":132.8,"I":41},{"p":"BR","s":"B","E":132.3,"I":40},
{"p":"BR","s":"D","E":138.1,"I":67},{"p":"BR","s":"D","E":137.5,"I":63},{"p":"BR","s":"D","E":136.8,"I":61},{"p":"BR","s":"D","E":136.2,"I":60},{"p":"BR","s":"D","E":135.9,"I":62},{"p":"BR","s":"D","E":135.6,"I":65},{"p":"BR","s":"D","E":135.3,"I":72},{"p":"BR","s":"D","E":134.9,"I":80},{"p":"BR","s":"D","E":134.6,"I":82},{"p":"BR","s":"D","E":134.3,"I":81},{"p":"BR","s":"D","E":134.0,"I":77},{"p":"BR","s":"D","E":133.7,"I":70},{"p":"BR","s":"D","E":133.4,"I":62},{"p":"BR","s":"D","E":133.0,"I":54},{"p":"BR","s":"D","E":132.6,"I":47},{"p":"BR","s":"D","E":132.2,"I":43},{"p":"BR","s":"D","E":131.6,"I":40},{"p":"BR","s":"D","E":130.7,"I":38},{"p":"BR","s":"D","E":129.6,"I":33},{"p":"BR","s":"D","E":128.6,"I":27},{"p":"BR","s":"D","E":127.6,"I":22},{"p":"BR","s":"D","E":126.8,"I":20},
{"p":"BR","s":"C","E":132.6,"I":40},{"p":"BR","s":"C","E":131.6,"I":39},{"p":"BR","s":"C","E":130.7,"I":39},{"p":"BR","s":"C","E":130.2,"I":43},{"p":"BR","s":"C","E":129.8,"I":50},{"p":"BR","s":"C","E":129.5,"I":60},{"p":"BR","s":"C","E":129.2,"I":73},{"p":"BR","s":"C","E":128.9,"I":84},{"p":"BR","s":"C","E":128.6,"I":93},{"p":"BR","s":"C","E":128.2,"I":99},{"p":"BR","s":"C","E":127.8,"I":93},{"p":"BR","s":"C","E":127.5,"I":80},{"p":"BR","s":"C","E":127.2,"I":63},{"p":"BR","s":"C","E":126.8,"I":46},{"p":"BR","s":"C","E":126.4,"I":33},{"p":"BR","s":"C","E":126.0,"I":25},{"p":"BR","s":"C","E":125.6,"I":21},{"p":"BR","s":"C","E":125.1,"I":19}
],
"labels": [
{"p":"TL","k":"big","t":"Eu 3d","E":1178.7,"I":211},{"p":"TL","k":"big","t":"Eu","E":1164.0,"I":193},{"p":"TL","k":"small","t":"3+","E":1159.8,"I":203},{"p":"TL","k":"big","t":"3d","E":1164.0,"I":166},{"p":"TL","k":"small","t":"3/2","E":1160.1,"I":157},{"p":"TL","k":"big","t":"Eu","E":1134.2,"I":174},{"p":"TL","k":"small","t":"3+","E":1130.2,"I":183},{"p":"TL","k":"big","t":"3d","E":1134.2,"I":150},{"p":"TL","k":"small","t":"5/2","E":1130.3,"I":140},{"p":"TL","k":"big","t":"EuCl","E":1176.5,"I":27},{"p":"TL","k":"small","t":"3","E":1168.9,"I":17},
{"p":"TR","k":"big","t":"Eu 4d","E":150.1,"I":208},{"p":"TR","k":"big","t":"Eu","E":146.0,"I":179},{"p":"TR","k":"small","t":"3+","E":144.1,"I":188},{"p":"TR","k":"big","t":"4d","E":146.0,"I":156},{"p":"TR","k":"small","t":"3/2","E":144.2,"I":146},{"p":"TR","k":"big","t":"Eu","E":136.0,"I":187},{"p":"TR","k":"small","t":"3+","E":134.1,"I":196},{"p":"TR","k":"big","t":"4d","E":136.0,"I":162},{"p":"TR","k":"small","t":"5/2","E":134.2,"I":152},{"p":"TR","k":"big","t":"EuCl","E":149.4,"I":28},{"p":"TR","k":"small","t":"3","E":146.0,"I":18},
{"p":"BL","k":"big","t":"Eu 3d","E":1178.7,"I":195},{"p":"BL","k":"big","t":"Eu","E":1166.1,"I":184},{"p":"BL","k":"small","t":"3+","E":1162.0,"I":193},{"p":"BL","k":"big","t":"3d","E":1166.1,"I":161},{"p":"BL","k":"small","t":"3/2","E":1162.2,"I":151},{"p":"BL","k":"big","t":"Eu","E":1154.4,"I":132},{"p":"BL","k":"small","t":"2+","E":1150.3,"I":141},{"p":"BL","k":"big","t":"3d","E":1154.4,"I":108},{"p":"BL","k":"small","t":"3/2","E":1150.5,"I":99},{"p":"BL","k":"big","t":"Eu","E":1137.3,"I":184},{"p":"BL","k":"small","t":"3+","E":1133.2,"I":193},{"p":"BL","k":"big","t":"3d","E":1137.3,"I":161},{"p":"BL","k":"small","t":"5/2","E":1133.4,"I":151},{"p":"BL","k":"big","t":"Eu","E":1129.5,"I":104},{"p":"BL","k":"small","t":"2+","E":1125.4,"I":113},{"p":"BL","k":"big","t":"3d","E":1129.5,"I":79},{"p":"BL","k":"small","t":"5/2","E":1125.6,"I":70},{"p":"BL","k":"big","t":"EuCl","E":1176.5,"I":26},{"p":"BL","k":"small","t":"2","E":1168.9,"I":16},
{"p":"BR","k":"big","t":"Eu 4d","E":150.3,"I":195},{"p":"BR","k":"big","t":"Eu","E":147.2,"I":168},{"p":"BR","k":"small","t":"3+","E":145.3,"I":177},{"p":"BR","k":"big","t":"4d","E":147.2,"I":144},{"p":"BR","k":"small","t":"3/2","E":145.4,"I":134},{"p":"BR","k":"big","t":"Eu","E":138.4,"I":191},{"p":"BR","k":"small","t":"3+","E":136.5,"I":200},{"p":"BR","k":"big","t":"4d","E":138.4,"I":168},{"p":"BR","k":"small","t":"5/2","E":136.6,"I":158},{"p":"BR","k":"big","t":"Eu","E":133.6,"I":132},{"p":"BR","k":"small","t":"2+","E":131.7,"I":141},{"p":"BR","k":"big","t":"4d","E":133.6,"I":108},{"p":"BR","k":"small","t":"3/2","E":131.8,"I":98},{"p":"BR","k":"big","t":"Eu","E":128.9,"I":151},{"p":"BR","k":"small","t":"2+","E":127.0,"I":160},{"p":"BR","k":"big","t":"4d","E":128.9,"I":126},{"p":"BR","k":"small","t":"5/2","E":127.1,"I":117},{"p":"BR","k":"big","t":"I","E":130.7,"I":57},{"p":"BR","k":"big","t":"II","E":128.5,"I":66},{"p":"BR","k":"big","t":"EuCl","E":149.4,"I":27},{"p":"BR","k":"small","t":"2","E":146.0,"I":16}
],
"boxes": [
{"p":"TL","E":1178.1,"E2":1165.5,"I":8,"I2":45},
{"p":"TR","E":150.2,"E2":144.3,"I":8,"I2":43},
{"p":"BL","E":1178.5,"E2":1165.5,"I":7,"I2":45},
{"p":"BR","E":150.2,"E2":144.3,"I":7,"I2":44}
]
},
"concat": [
{
"width": 291, "height": 225,
"encoding": {
 "x": {"field": "E", "type": "quantitative", "scale": {"domain": [1121.45, 1180], "reverse": true, "nice": false, "zero": false}, "axis": null},
 "y": {"field": "I", "type": "quantitative", "scale": {"domain": [0, 225], "nice": false}, "axis": {"title": "Intensity (a.u.)", "labels": false, "ticks": false, "domain": false, "grid": false, "titleFont": "Liberation Sans", "titleFontSize": 21, "titleFontWeight": "bold", "titleColor": "#111", "titleX": -22, "titleY": 211, "titleAngle": 270, "titleBaseline": "middle", "titleAlign": "center"}}
},
"layer": [
 {"data": {"name": "curves"}, "transform": [{"filter": "datum.p === 'TL' && datum.s === 'data'"}], "mark": {"type": "line", "color": "#111", "strokeWidth": 3.2, "clip": true}},
 {"data": {"name": "curves"}, "transform": [{"filter": "datum.p === 'TL' && datum.s !== 'data' && datum.s !== 'F'"}], "mark": {"type": "line", "strokeWidth": 3, "clip": true},
  "encoding": {"color": {"field": "s", "type": "nominal", "scale": {"domain": ["A","B","C","D","E","F"], "range": ["#1d1db0","#e31c1c","#33dd33","#3cdce0","#6b1010","#e040e0"]}, "legend": null}}},
 {"data": {"name": "boxes"}, "transform": [{"filter": "datum.p === 'TL'"}], "mark": {"type": "rect", "fill": "white", "stroke": "#333", "strokeWidth": 1}, "encoding": {"x2": {"field": "E2"}, "y2": {"field": "I2"}}},
 {"data": {"name": "labels"}, "transform": [{"filter": "datum.p === 'TL' && datum.k === 'big'"}], "mark": {"type": "text", "align": "left", "baseline": "middle", "fontSize": 16, "fontWeight": "bold", "font": "Liberation Sans", "color": "#1a1a1a"}, "encoding": {"text": {"field": "t"}}},
 {"data": {"name": "labels"}, "transform": [{"filter": "datum.p === 'TL' && datum.k === 'small'"}], "mark": {"type": "text", "align": "left", "baseline": "middle", "fontSize": 9, "fontWeight": "bold", "font": "Liberation Sans", "color": "#1a1a1a"}, "encoding": {"text": {"field": "t"}}}
]
},
{
"width": 280, "height": 225,
"encoding": {
 "x": {"field": "E", "type": "quantitative", "scale": {"domain": [125, 150.93], "reverse": true, "nice": false, "zero": false}, "axis": null},
 "y": {"field": "I", "type": "quantitative", "scale": {"domain": [0, 225], "nice": false}, "axis": null}
},
"layer": [
 {"data": {"name": "curves"}, "transform": [{"filter": "datum.p === 'TR' && datum.s === 'data'"}], "mark": {"type": "line", "color": "#111", "strokeWidth": 3.2, "clip": true}},
 {"data": {"name": "curves"}, "transform": [{"filter": "datum.p === 'TR' && datum.s !== 'data' && datum.s !== 'F'"}], "mark": {"type": "line", "strokeWidth": 3, "clip": true},
  "encoding": {"color": {"field": "s", "type": "nominal", "scale": {"domain": ["A","B","C","D","E","F"], "range": ["#1d1db0","#e31c1c","#33dd33","#3cdce0","#6b1010","#e040e0"]}, "legend": null}}},
 {"data": {"name": "curves"}, "transform": [{"filter": "datum.p === 'TR' && datum.s === 'F'"}], "mark": {"type": "line", "color": "#e040e0", "strokeWidth": 1.5, "clip": true}},
 {"data": {"name": "boxes"}, "transform": [{"filter": "datum.p === 'TR'"}], "mark": {"type": "rect", "fill": "white", "stroke": "#333", "strokeWidth": 1}, "encoding": {"x2": {"field": "E2"}, "y2": {"field": "I2"}}},
 {"data": {"name": "labels"}, "transform": [{"filter": "datum.p === 'TR' && datum.k === 'big'"}], "mark": {"type": "text", "align": "left", "baseline": "middle", "fontSize": 16, "fontWeight": "bold", "font": "Liberation Sans", "color": "#1a1a1a"}, "encoding": {"text": {"field": "t"}}},
 {"data": {"name": "labels"}, "transform": [{"filter": "datum.p === 'TR' && datum.k === 'small'"}], "mark": {"type": "text", "align": "left", "baseline": "middle", "fontSize": 9, "fontWeight": "bold", "font": "Liberation Sans", "color": "#1a1a1a"}, "encoding": {"text": {"field": "t"}}}
]
},
{
"width": 291, "height": 212,
"encoding": {
 "x": {"field": "E", "type": "quantitative", "scale": {"domain": [1121.45, 1180], "reverse": true, "nice": false, "zero": false}, "axis": {"values": [1180,1170,1160,1150,1140,1130], "format": "d", "labelFont": "Liberation Sans", "labelFontSize": 15, "labelFontWeight": "bold", "labelColor": "#111", "labelFlush": false, "labelPadding": 2, "tickColor": "#111", "tickSize": 5, "tickWidth": 1.5, "domain": false, "grid": false, "title": "Binding Energy (eV)", "titleFont": "Liberation Sans", "titleFontSize": 21, "titleFontWeight": "bold", "titleColor": "#111", "titleX": 299, "titleY": 40, "titleBaseline": "middle", "titleAlign": "center"}},
 "y": {"field": "I", "type": "quantitative", "scale": {"domain": [0, 212], "nice": false}, "axis": null}
},
"layer": [
 {"data": {"name": "curves"}, "transform": [{"filter": "datum.p === 'BL' && datum.s === 'data'"}], "mark": {"type": "line", "color": "#111", "strokeWidth": 3.2, "clip": true}},
 {"data": {"name": "curves"}, "transform": [{"filter": "datum.p === 'BL' && datum.s !== 'data' && datum.s !== 'F'"}], "mark": {"type": "line", "strokeWidth": 3, "clip": true},
  "encoding": {"color": {"field": "s", "type": "nominal", "scale": {"domain": ["A","B","C","D","E","F"], "range": ["#1d1db0","#e31c1c","#33dd33","#3cdce0","#6b1010","#e040e0"]}, "legend": null}}},
 {"data": {"name": "boxes"}, "transform": [{"filter": "datum.p === 'BL'"}], "mark": {"type": "rect", "fill": "white", "stroke": "#333", "strokeWidth": 1}, "encoding": {"x2": {"field": "E2"}, "y2": {"field": "I2"}}},
 {"data": {"name": "labels"}, "transform": [{"filter": "datum.p === 'BL' && datum.k === 'big'"}], "mark": {"type": "text", "align": "left", "baseline": "middle", "fontSize": 16, "fontWeight": "bold", "font": "Liberation Sans", "color": "#1a1a1a"}, "encoding": {"text": {"field": "t"}}},
 {"data": {"name": "labels"}, "transform": [{"filter": "datum.p === 'BL' && datum.k === 'small'"}], "mark": {"type": "text", "align": "left", "baseline": "middle", "fontSize": 9, "fontWeight": "bold", "font": "Liberation Sans", "color": "#1a1a1a"}, "encoding": {"text": {"field": "t"}}}
]
},
{
"width": 280, "height": 212,
"encoding": {
 "x": {"field": "E", "type": "quantitative", "scale": {"domain": [125, 150.93], "reverse": true, "nice": false, "zero": false}, "axis": {"values": [150,145,140,135,130,125], "format": "d", "labelFont": "Liberation Sans", "labelFontSize": 15, "labelFontWeight": "bold", "labelColor": "#111", "labelFlush": false, "labelPadding": 2, "tickColor": "#111", "tickSize": 5, "tickWidth": 1.5, "domain": false, "grid": false, "title": null}},
 "y": {"field": "I", "type": "quantitative", "scale": {"domain": [0, 212], "nice": false}, "axis": null}
},
"layer": [
 {"data": {"name": "curves"}, "transform": [{"filter": "datum.p === 'BR' && datum.s === 'data'"}], "mark": {"type": "line", "color": "#111", "strokeWidth": 3.2, "clip": true}},
 {"data": {"name": "curves"}, "transform": [{"filter": "datum.p === 'BR' && datum.s !== 'data' && datum.s !== 'F'"}], "mark": {"type": "line", "strokeWidth": 3, "clip": true},
  "encoding": {"color": {"field": "s", "type": "nominal", "scale": {"domain": ["A","B","C","D","E","F"], "range": ["#1d1db0","#e31c1c","#33dd33","#3cdce0","#6b1010","#e040e0"]}, "legend": null}}},
 {"data": {"name": "boxes"}, "transform": [{"filter": "datum.p === 'BR'"}], "mark": {"type": "rect", "fill": "white", "stroke": "#333", "strokeWidth": 1}, "encoding": {"x2": {"field": "E2"}, "y2": {"field": "I2"}}},
 {"data": {"name": "labels"}, "transform": [{"filter": "datum.p === 'BR' && datum.k === 'big'"}], "mark": {"type": "text", "align": "left", "baseline": "middle", "fontSize": 16, "fontWeight": "bold", "font": "Liberation Sans", "color": "#1a1a1a"}, "encoding": {"text": {"field": "t"}}},
 {"data": {"name": "labels"}, "transform": [{"filter": "datum.p === 'BR' && datum.k === 'small'"}], "mark": {"type": "text", "align": "left", "baseline": "middle", "fontSize": 9, "fontWeight": "bold", "font": "Liberation Sans", "color": "#1a1a1a"}, "encoding": {"text": {"field": "t"}}}
]
}
]
}
